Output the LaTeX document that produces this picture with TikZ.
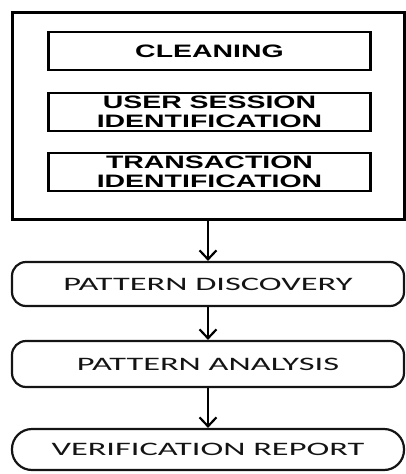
\documentclass[tikz,border=0pt]{standalone}
\usepackage{fontspec}
\usetikzlibrary{arrows.meta}
% wide sans faces for the two groups of labels
\newfontfamily\stagefont[FakeStretch=1.58]{Liberation Sans}
\newfontfamily\stepfont[FakeStretch=1.81]{Carlito}
\definecolor{ink}{RGB}{20,20,20}
\begin{document}
\begin{tikzpicture}[x=1pt,y=-1pt,
  outerbox/.style={draw=black,line width=3pt,minimum width=392pt,minimum height=207pt,inner sep=0pt},
  stagebox/.style={draw=black,line width=2.7pt,minimum width=322pt,minimum height=38pt,inner sep=0pt,
    align=center,text=black,font=\stagefont\bfseries\fontsize{18}{18.5}\selectfont},
  stepbox/.style={draw=ink,line width=2.2pt,minimum width=392pt,inner sep=0pt,rounded corners=14pt,
    text=ink,font=\stepfont\fontsize{19}{21}\selectfont},
  flow/.style={draw=black,line width=2.4pt,-{Straight Barb[length=9pt,width=17pt,line width=2.2pt]}}]
\useasboundingbox (0,0) rectangle (406,474);

% preprocessing stage with its three sub-steps
\node[outerbox] (pre) at (208,115.5) {};
\node[stagebox] (clean) at (209.5,51) {CLEANING};
\node[stagebox] (session) at (209.5,112) {USER SESSION\\IDENTIFICATION};
\node[stagebox] (trans) at (209.5,172) {TRANSACTION\\IDENTIFICATION};

% later stages
\node[stepbox,minimum height=44pt] (disc) at (208,284) {PATTERN DISCOVERY};
\node[stepbox,minimum height=46pt] (anal) at (208,364) {PATTERN ANALYSIS};
\node[stepbox,minimum height=41pt,rounded corners=20pt] (verif) at (208,449.5) {VERIFICATION REPORT};

% flow between stages
\draw[flow] (pre.south) -- (disc.north);
\draw[flow] (disc.south) -- (anal.north);
\draw[flow] (anal.south) -- (verif.north);
\end{tikzpicture}
\end{document}
